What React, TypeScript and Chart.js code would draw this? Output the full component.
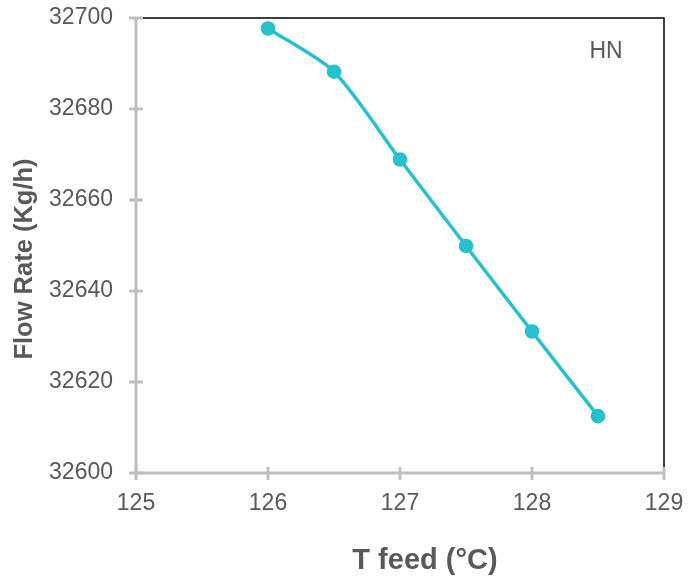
import React, { useEffect, useRef } from "react";
import { Chart, registerables } from "chart.js";

Chart.register(...registerables);

const tFeed: number[] = [126, 126.5, 127, 127.5, 128, 128.5];
const flowRate: number[] = [32697.7, 32688.2, 32668.9, 32649.9, 32631.1, 32612.5];
const xTicks: number[] = [125, 126, 127, 128, 129];
const yTicks: number[] = [32600, 32620, 32640, 32660, 32680, 32700];
const seriesLabel = "HN";
const xTitle = "T feed (°C)";
const yTitle = "Flow Rate (Kg/h)";

const FONT = "'Liberation Sans', Arial, sans-serif";
const TEXT = "#595959";
const AXIS = "#bfbfbf";
const LINE = "#26c0cf";

const zeroPad = (s: any) => {
  s.paddingTop = 0;
  s.paddingBottom = 0;
  s.paddingLeft = 0;
  s.paddingRight = 0;
};

const axesPlugin = {
  id: "customAxes",
  beforeDatasetsDraw(chart: any) {
    const { ctx, chartArea } = chart;
    const { left, right, top, bottom } = chartArea;
    const xs = chart.scales.x;
    const ys = chart.scales.y;
    ctx.save();
    ctx.strokeStyle = "#000";
    ctx.lineWidth = 1.5;
    ctx.beginPath();
    ctx.moveTo(left, top);
    ctx.lineTo(right, top);
    ctx.lineTo(right, bottom);
    ctx.stroke();
    ctx.strokeStyle = AXIS;
    ctx.lineWidth = 3;
    ctx.beginPath();
    ctx.moveTo(left, top);
    ctx.lineTo(left, bottom);
    ctx.lineTo(right, bottom);
    ctx.stroke();
    ctx.beginPath();
    yTicks.forEach((v) => {
      const y = ys.getPixelForValue(v);
      ctx.moveTo(left - 7, y);
      ctx.lineTo(left + 7, y);
    });
    xTicks.forEach((v) => {
      const x = xs.getPixelForValue(v);
      ctx.moveTo(x, bottom - 6);
      ctx.lineTo(x, bottom + 7);
    });
    ctx.stroke();
    ctx.fillStyle = TEXT;
    ctx.textAlign = "center";
    ctx.textBaseline = "middle";
    ctx.font = `23px ${FONT}`;
    ctx.fillText(seriesLabel, 606, 52);
    ctx.font = `bold 29px ${FONT}`;
    ctx.fillText(xTitle, 425, 561);
    ctx.save();
    ctx.translate(25, 259);
    ctx.rotate(-Math.PI / 2);
    ctx.font = `bold 25.5px ${FONT}`;
    ctx.fillText(yTitle, 0, 0);
    ctx.restore();
    ctx.restore();
  },
};

export default function App() {
  const ref = useRef<HTMLCanvasElement | null>(null);
  useEffect(() => {
    if (!ref.current) return;
    const chart = new Chart(ref.current, {
      type: "line",
      data: {
        datasets: [
          {
            label: seriesLabel,
            data: tFeed.map((x, i) => ({ x, y: flowRate[i] })),
            borderColor: LINE,
            backgroundColor: LINE,
            borderWidth: 3.5,
            pointRadius: 7.3,
            pointHoverRadius: 7.3,
            pointBorderWidth: 0,
            tension: 0.25,
            fill: false,
          },
        ],
      },
      options: {
        responsive: false,
        animation: false,
        layout: { padding: { left: 0, top: 18, right: 34, bottom: 0 } },
        plugins: { legend: { display: false }, tooltip: { enabled: false } },
        scales: {
          x: {
            type: "linear",
            min: 125,
            max: 129,
            afterBuildTicks: (s: any) => {
              s.ticks = xTicks.map((v) => ({ value: v }));
            },
            afterFit: (s: any) => {
              s.height = 104;
              zeroPad(s);
            },
            grid: { display: false, drawTicks: false },
            border: { display: false },
            ticks: {
              color: TEXT,
              font: { family: FONT, size: 23 },
              padding: 17,
              maxRotation: 0,
              callback: (v: any) => String(v),
            },
            title: { display: false },
          },
          y: {
            type: "linear",
            min: 32600,
            max: 32700,
            afterBuildTicks: (s: any) => {
              s.ticks = yTicks.map((v) => ({ value: v }));
            },
            afterFit: (s: any) => {
              s.width = 136;
              zeroPad(s);
            },
            grid: { display: false, drawTicks: false },
            border: { display: false },
            ticks: {
              color: TEXT,
              font: { family: FONT, size: 23 },
              padding: 23,
              callback: (v: any) => String(v),
            },
            title: { display: false },
          },
        },
      },
      plugins: [axesPlugin],
    });
    return () => chart.destroy();
  }, []);
  return (
    <div style={{ position: "absolute", left: 0, top: 0, width: 698, height: 577 }}>
      <canvas ref={ref} width={698} height={577} style={{ display: "block" }} />
    </div>
  );
}
